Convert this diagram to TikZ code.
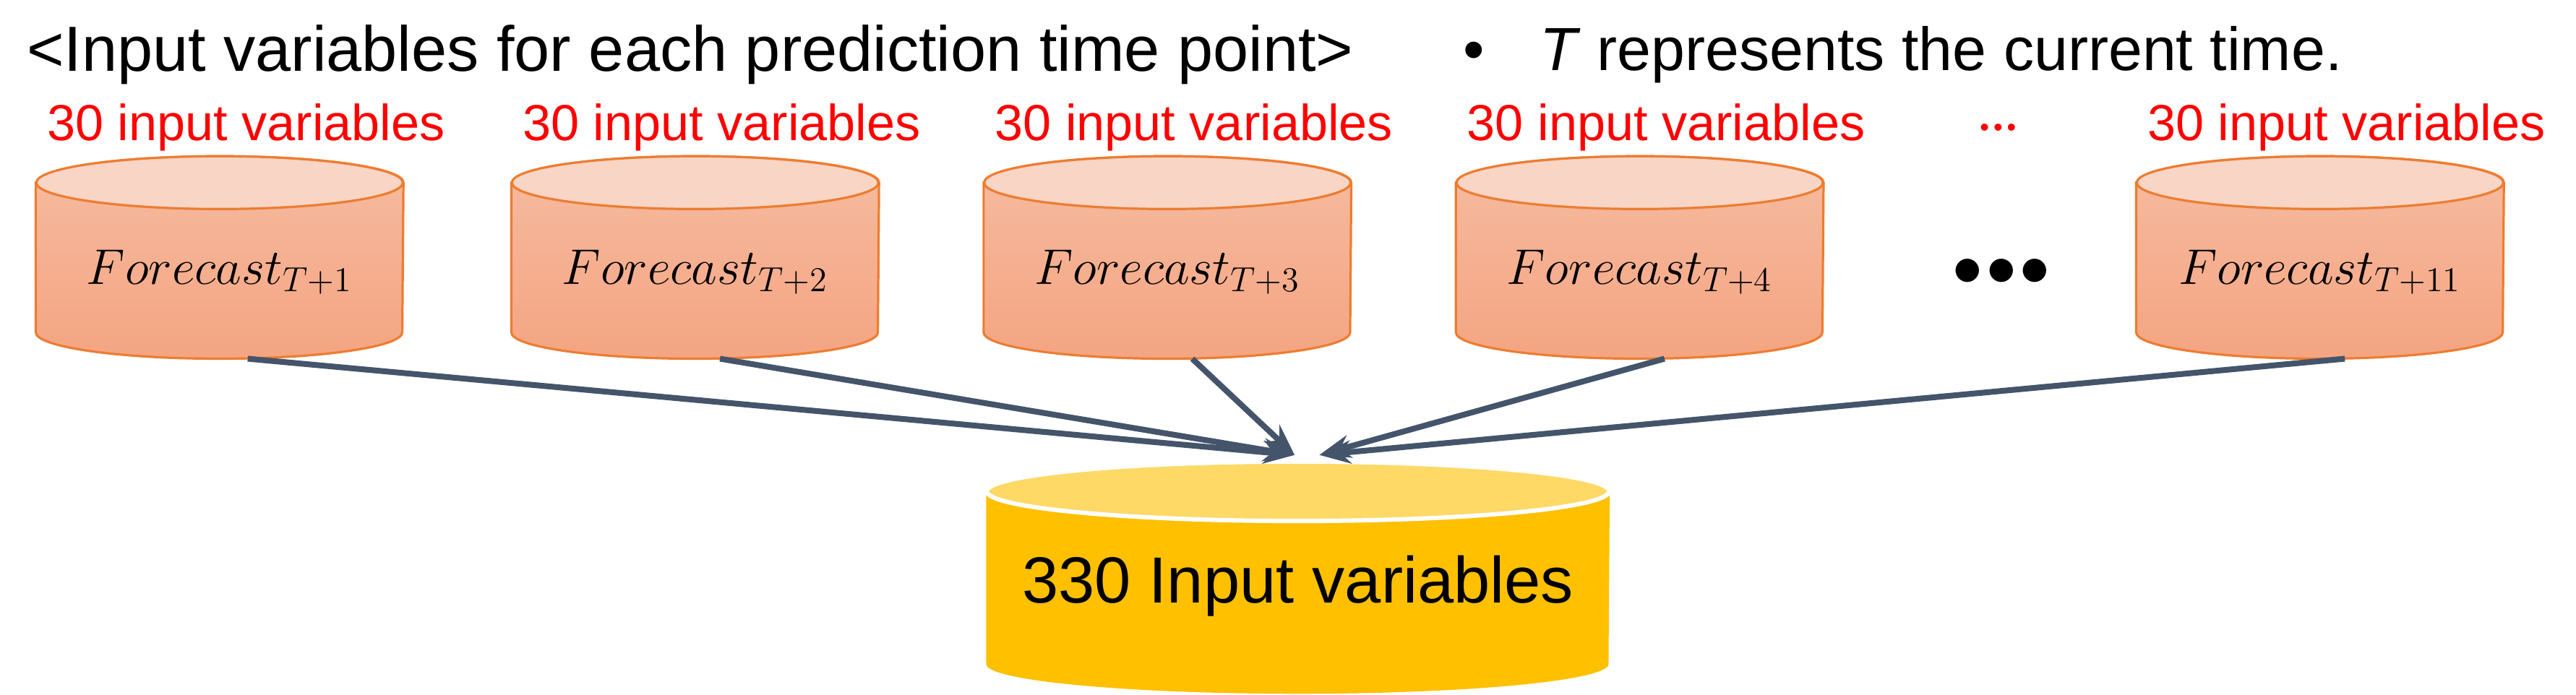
\documentclass[tikz,border=0pt]{standalone}
\usepackage{fontspec}
\setmainfont{Liberation Sans}
\usetikzlibrary{arrows.meta,positioning,calc}
\definecolor{cylline}{HTML}{ED7D31}
\definecolor{cyltopc}{HTML}{F9D5C6}
\definecolor{cylup}{HTML}{F6BBA0}
\definecolor{cyldown}{HTML}{F4A582}
\definecolor{goldbody}{HTML}{FFC000}
\definecolor{goldtop}{HTML}{FFD966}
\definecolor{arrowc}{HTML}{44546A}
\begin{document}
\begin{tikzpicture}[
  x=0.02cm, y=-0.02cm,
  fc/.style={rectangle, minimum width=4.44cm, minimum height=1.8cm, inner sep=0pt, font=\fontsize{18}{20}\selectfont},
  lbl/.style={text=red, font=\fontsize{17.5}{20}\selectfont},
  cylbody/.style={draw=cylline, line width=0.8pt, top color=cylup, bottom color=cyldown},
  cyltop/.style={draw=cylline, line width=0.8pt, fill=cyltopc},
  link/.style={draw=arrowc, line width=2pt, -{Stealth[length=3.8mm, width=2.8mm]}}
]
\useasboundingbox (0,0) rectangle (1560,421);

% Header
\node[anchor=west, font=\fontsize{22}{24}\selectfont] (TITLE) at (10,33) {<Input variables for each prediction time point>};
\node[anchor=west, font=\fontsize{21}{24}\selectfont] (NOTE) at (880,33) {\textbullet\hspace{0.9em}\textit{T} represents the current time.};

% Forecast cylinders
\foreach \name/\x/\step in {F1/133/1, F2/421/2, F3/707/3, F4/993/4, F11/1405/11} {
  \node[fc] (\name) at (\x,156) {};
  \draw[cylbody] (\name.north west) -- (\name.south west)
    arc[start angle=180, end angle=360, x radius=2.22cm, y radius=0.32cm]
    -- (\name.north east)
    arc[start angle=0, end angle=180, x radius=2.22cm, y radius=0.32cm] -- cycle;
  \draw[cyltop] (\name.north) ellipse[x radius=2.22cm, y radius=0.32cm];
  \node[fc] at ([yshift=-0.18cm]\name.center) {$Forecast_{T+\step}$};
  \node[lbl] (\name lbl) at (\x+16,77) {30 input variables};
}
\node[lbl, font=\fontsize{9}{10}\selectfont] (DOTSR) at (1210,79) {\textbullet\,\textbullet\,\textbullet};
\node[font=\fontsize{22}{24}\selectfont] (DOTSB) at (1212,165) {$\bullet\!\bullet\!\bullet$};

% Combined cylinder
\node[rectangle, minimum width=7.54cm, minimum height=2.08cm, inner sep=0pt] (ALL) at (786,350) {};
\fill[goldbody] (ALL.north west) -- (ALL.south west)
  arc[start angle=180, end angle=360, x radius=3.77cm, y radius=0.36cm]
  -- (ALL.north east)
  arc[start angle=0, end angle=180, x radius=3.77cm, y radius=0.36cm] -- cycle;
\draw[draw=white, line width=1.5pt, fill=goldtop] (ALL.north) ellipse[x radius=3.77cm, y radius=0.36cm];
\node[font=\fontsize{22.5}{26}\selectfont] (ALLTXT) at ([yshift=-0.1cm]ALL.center) {330 Input variables};

% Links
\coordinate (INL) at ([xshift=-0.04cm, yshift=0.44cm]ALL.north);
\coordinate (INR) at ([xshift=0.26cm, yshift=0.44cm]ALL.north);
\foreach \name/\dx in {F1/0.34cm, F2/0.3cm, F3/0.3cm} {
  \path[link] ([xshift=\dx, yshift=-0.32cm]\name.south) -- (INL);
}
\foreach \name/\dx in {F4/0.3cm, F11/0.3cm} {
  \path[link] ([xshift=\dx, yshift=-0.32cm]\name.south) -- (INR);
}
\end{tikzpicture}
\end{document}
